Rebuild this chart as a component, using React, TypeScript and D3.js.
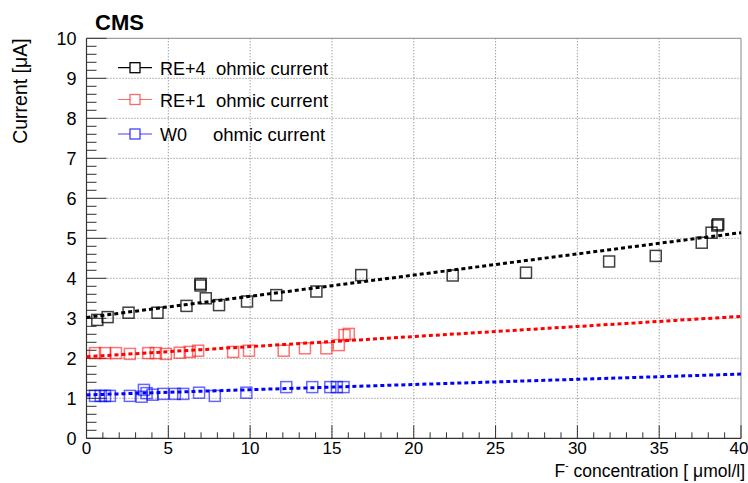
import React from "react";
import * as d3 from "d3";

const W = 748;
const H = 483;

const blackX = [0.66, 1.29, 2.57, 4.34, 6.11, 6.97, 6.97, 7.29, 8.10, 9.81, 11.6, 14.05, 16.79, 22.38, 26.86, 31.94, 34.79, 37.6, 38.2, 38.55, 38.61];
const blackY = [2.96, 3.03, 3.14, 3.14, 3.31, 3.86, 3.82, 3.50, 3.33, 3.42, 3.58, 3.67, 4.08, 4.07, 4.14, 4.42, 4.56, 4.89, 5.14, 5.32, 5.35];

const redX = [0.52, 1.13, 1.80, 2.65, 3.77, 4.24, 4.85, 5.70, 6.31, 6.82, 8.96, 9.93, 12.05, 13.35, 14.66, 15.42, 15.77, 16.03];
const redY = [2.13, 2.13, 2.13, 2.11, 2.13, 2.13, 2.11, 2.14, 2.16, 2.19, 2.16, 2.19, 2.19, 2.25, 2.25, 2.33, 2.58, 2.61];

const blueX = [0.52, 0.87, 1.13, 1.43, 2.65, 3.37, 3.51, 3.67, 4.04, 4.69, 5.40, 5.91, 6.88, 7.84, 9.77, 12.21, 13.8, 14.9, 15.3, 15.71];
const blueY = [1.06, 1.06, 1.06, 1.06, 1.06, 1.04, 1.21, 1.13, 1.09, 1.11, 1.11, 1.11, 1.14, 1.06, 1.14, 1.28, 1.28, 1.28, 1.28, 1.28];

// linear fits: [intercept, slope]
const blackFit = [3.02, 0.053];
const redFit = [2.04, 0.0252];
const blueFit = [1.085, 0.013];

const xTicks = [0, 5, 10, 15, 20, 25, 30, 35, 40];
const yTicks = [0, 1, 2, 3, 4, 5, 6, 7, 8, 9, 10];

const legendLabels = ["RE+4", "RE+1", "W0"];

const FONT = "'Liberation Sans', Arial, Helvetica, sans-serif";

export default function App() {
  const left = 86.5;
  const right = 741;
  const top = 38.3;
  const bottom = 438.3;
  const x = d3.scaleLinear().domain([0, 40]).range([left, right]);
  const y = d3.scaleLinear().domain([0, 10]).range([bottom, top]);

  const series = [
    { xs: blackX, ys: blackY, fit: blackFit, color: "#000000", mcolor: "rgba(0,0,0,0.75)", lcolor: "#000" },
    { xs: redX, ys: redY, fit: redFit, color: "#ff0000", mcolor: "rgba(255,0,0,0.55)", lcolor: "rgba(255,0,0,0.6)" },
    { xs: blueX, ys: blueY, fit: blueFit, color: "#0000ff", mcolor: "rgba(0,0,255,0.6)", lcolor: "rgba(0,0,255,0.75)" },
  ];

  const line = d3.line<number>().x((d) => x(d[0])).y((d) => y(d[1]));
  const fitPts = (f: number[]) => d3.range(0, 40.01, 1).map((v) => [v, f[0] + f[1] * v]);

  const minorX = d3.range(0, 40.01, 1);
  const minorY = d3.range(0, 10.001, 0.2);
  const ms = 11;

  return (
    <svg width={W} height={H} style={{ position: "absolute", left: 0, top: 0, background: "#fff" }} fontFamily={FONT}>
      <rect x={0} y={0} width={W} height={H} fill="#fff" />
      {/* grid */}
      {xTicks.slice(1, -1).map((t) => (
        <line key={"gx" + t} x1={x(t)} x2={x(t)} y1={top} y2={bottom} stroke="#777" strokeWidth={1} strokeDasharray="1 2" />
      ))}
      {yTicks.slice(1, -1).map((t) => (
        <line key={"gy" + t} x1={left} x2={right} y1={y(t)} y2={y(t)} stroke="#777" strokeWidth={1} strokeDasharray="1 2" />
      ))}
      {/* frame */}
      <line x1={left} x2={right} y1={top} y2={top} stroke="#888" strokeWidth={1} />
      <line x1={right} x2={right} y1={top} y2={bottom} stroke="#888" strokeWidth={1} />
      <line x1={left} x2={left} y1={top} y2={bottom} stroke="#333" strokeWidth={1.2} />
      <line x1={left} x2={right} y1={bottom} y2={bottom} stroke="#333" strokeWidth={1.2} />
      {/* ticks */}
      {minorX.map((t) => {
        const major = Math.abs(t % 5) < 1e-6;
        return <line key={"tx" + t} x1={x(t)} x2={x(t)} y1={bottom} y2={bottom - (major ? 13 : 6)} stroke="#333" strokeWidth={1} />;
      })}
      {minorY.map((t) => {
        const major = Math.abs(t - Math.round(t)) < 1e-6;
        return <line key={"ty" + t} x1={left} x2={left + (major ? 20 : 10)} y1={y(t)} y2={y(t)} stroke="#333" strokeWidth={1} />;
      })}
      {/* tick labels */}
      {xTicks.map((t) => (
        <text key={"lx" + t} x={t === 40 ? x(t) - 2 : x(t)} y={bottom + 16} textAnchor="middle" fontSize={17} fill="#000">{t}</text>
      ))}
      {yTicks.map((t) => (
        <text key={"ly" + t} x={left - 10} y={y(t) + 6.5} textAnchor="end" fontSize={18} fill="#000">{t}</text>
      ))}
      {/* axis titles */}
      <text x={745} y={477} textAnchor="end" fontSize={17.5} fill="#000">
        F<tspan dy={-8} fontSize={10}>-</tspan><tspan dy={8}> concentration [ μmol/l]</tspan>
      </text>
      <text transform={`translate(27,${top}) rotate(-90)`} textAnchor="end" fontSize={19.5} fill="#000">Current [μA]</text>
      <text x={95} y={30} fontSize={22} fontWeight="bold" fill="#000">CMS</text>
      {/* fits */}
      {series.map((s, i) => (
        <path key={"f" + i} d={line(fitPts(s.fit) as any) || ""} fill="none" stroke={s.color} strokeWidth={3} strokeDasharray="4 3" />
      ))}
      {/* markers */}
      {series.map((s, i) => (
        <g key={"m" + i}>
          {s.xs.map((v, j) => (
            <rect key={j} x={x(v) - ms / 2} y={y(s.ys[j]) - ms / 2} width={ms} height={ms} fill="none" stroke={s.mcolor} strokeWidth={1.5} />
          ))}
        </g>
      ))}
      {/* legend */}
      {series.map((s, i) => {
        const ly = [67.7, 99.5, 134][i];
        return (
          <g key={"lg" + i}>
            <line x1={118} x2={152} y1={ly} y2={ly} stroke={s.lcolor} strokeWidth={1.2} />
            <rect x={135 - 5} y={ly - 5} width={10} height={10} fill="#fff" stroke={s.lcolor} strokeWidth={1.3} />
            <text x={160} y={ly + 7} fontSize={18} fill="#000">{legendLabels[i]}</text>
            <text x={i === 2 ? 213 : 216} y={ly + 7} fontSize={18.5} fill="#000">ohmic current</text>
          </g>
        );
      })}
    </svg>
  );
}
